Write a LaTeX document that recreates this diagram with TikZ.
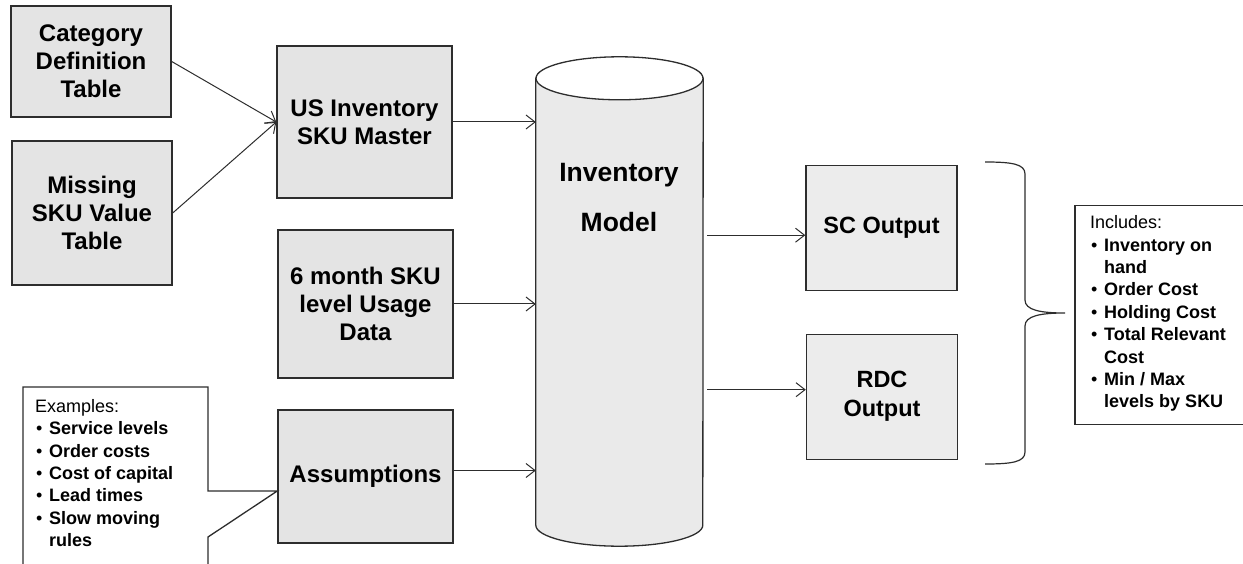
\documentclass[tikz,border=0pt]{standalone}
\usepackage{fontspec}
\setmainfont{Liberation Sans}
\usetikzlibrary{arrows.meta,positioning}
\definecolor{boxgray}{RGB}{228,228,228}
\definecolor{cylgray}{RGB}{234,234,234}
\definecolor{edgegray}{RGB}{45,45,45}
\newcommand{\bitem}[1]{\makebox[14pt][l]{\hspace{1pt}\textbullet}\textbf{#1}}
\newcommand{\bcont}[1]{\hspace*{14pt}\textbf{#1}}

\begin{document}
\begin{tikzpicture}
[x=1pt,y=-1pt,
block/.style={draw=edgegray,line width=1.4pt,fill=boxgray,inner sep=0pt,align=center,
  font=\bfseries\fontsize{24}{28}\selectfont},
outbox/.style={block,fill=boxgray!70,font=\bfseries\fontsize{23.5}{29}\selectfont},
note/.style={draw=edgegray,line width=1.3pt,fill=white},
notetext/.style={inner sep=0pt,align=left,font=\fontsize{18}{22.4}\selectfont},
cyl/.style={draw=edgegray,line width=1.3pt,fill=cylgray},
flow/.style={line width=1pt,draw=edgegray,-{Straight Barb[length=9pt,width=14pt]}},
brace/.style={line width=1.2pt,draw=edgegray}]
\useasboundingbox (0,0) rectangle (1243,564);
\clip (0,0) rectangle (1243,564);
%%
% input tables
%%
\node[block,minimum width=160pt,minimum height=111pt] (cat) at (91,61.5) {Category\\Definition\\Table};
\node[block,minimum width=160pt,minimum height=144pt] (miss) at (92,213) {Missing\\SKU Value\\Table};
\node[block,minimum width=175pt,minimum height=152pt] (usinv) at (364.5,122) {US Inventory\\SKU Master};
\node[block,minimum width=175pt,minimum height=148pt] (usage) at (365.5,304) {6 month SKU\\level Usage\\Data};
\node[block,minimum width=175pt,minimum height=133pt] (assum) at (365.5,476.5) {Assumptions};
%%
% model cylinder
%%
\node[inner sep=0pt,minimum width=167pt,minimum height=446.5pt] (model) at (619.5,301.75) {};
\filldraw[cyl] (model.north west) -- (model.south west)
  arc[start angle=180,end angle=360,x radius=83.5pt,y radius=21pt]
  -- (model.north east) -- cycle;
\filldraw[cyl,fill=white] (model.north) ellipse[x radius=83.5pt,y radius=21.5pt];
\node[font=\bfseries\fontsize{26.5}{50}\selectfont,align=center] (modeltext) at (619,198) {Inventory\\Model};
%%
% outputs
%%
\node[outbox,minimum width=151pt,minimum height=125pt] (sc) at (881.5,228.2) {SC Output};
\node[outbox,minimum width=151pt,minimum height=125pt] (rdc) at (882,396.7) {RDC\\Output};
%%
% arrows
%%
\draw[flow] (cat.east) -- (usinv.west);
\draw[flow] (miss.east) -- (usinv.west);
\draw[flow] (usinv.east) -- (usinv.east -| model.west);
\draw[flow] (usage.east) -- (usage.east -| model.west);
\draw[flow] ([yshift=6pt]assum.east) -- ([yshift=6pt]assum.east -| model.west);
\draw[flow,shorten <=4pt] ([yshift=-7pt]sc.west -| model.east) -- ([yshift=-7pt]sc.west);
\draw[flow,shorten <=4pt] ([yshift=7pt]rdc.west -| model.east) -- ([yshift=7pt]rdc.west);
%%
% brace and list of outputs
%%
\draw[brace] (985,162) .. controls (1012,162) and (1025,164) .. (1025,174) -- (1025,300)
  .. controls (1025,310) and (1040,313) .. (1065,313)
  .. controls (1040,313) and (1025,316) .. (1025,326) -- (1025,452)
  .. controls (1025,462) and (1012,464) .. (985,464);
\node[note,minimum width=171pt,minimum height=219pt] (incl) at (1160.5,315) {};
\node[notetext,anchor=west] (incltext) at (1090,313.7) {Includes:\\\bitem{Inventory on}\\\bcont{hand}\\
  \bitem{Order Cost}\\\bitem{Holding Cost}\\\bitem{Total Relevant}\\\bcont{Cost}\\
  \bitem{Min / Max}\\\bcont{levels by SKU}};
%%
% examples callout
%%
\coordinate (tip) at ([yshift=-14.5pt]assum.west);
\draw[note] (23,600) -- (23,387) -- (208,387) -- (208,491) -- (tip) -- (208,537) -- (208,600);
\node[notetext,anchor=west] (extext) at (35,473) {Examples:\\\bitem{Service levels}\\\bitem{Order costs}\\
  \bitem{Cost of capital}\\\bitem{Lead times}\\\bitem{Slow moving}\\\bcont{rules}};
\end{tikzpicture}
\end{document}
